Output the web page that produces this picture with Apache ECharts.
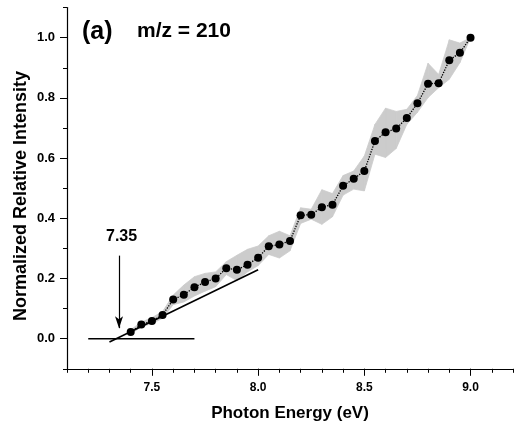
<!DOCTYPE html>
<html><head><meta charset="utf-8">
<script src="https://cdn.jsdelivr.net/npm/echarts@6/dist/echarts.min.js"></script>
<style>html,body{margin:0;padding:0;background:#fff}#c{width:515px;height:425px}</style>
</head><body><div id="c"></div>
<script>
var energy = [7.40,7.45,7.50,7.55,7.60,7.65,7.70,7.75,7.80,7.85,7.90,7.95,8.00,8.05,8.10,8.15,8.20,8.25,8.30,8.35,8.40,8.45,8.50,8.55,8.60,8.65,8.70,8.75,8.80,8.85,8.90,8.95,9.00];
var intensity = [0.022,0.047,0.059,0.079,0.130,0.146,0.171,0.188,0.200,0.234,0.229,0.246,0.269,0.307,0.313,0.325,0.410,0.412,0.437,0.445,0.508,0.531,0.557,0.657,0.686,0.698,0.733,0.782,0.847,0.849,0.925,0.950,1.000];
var bandUpper = [0.030,0.055,0.070,0.090,0.145,0.178,0.206,0.217,0.222,0.256,0.277,0.297,0.308,0.342,0.357,0.342,0.435,0.430,0.495,0.482,0.542,0.557,0.607,0.712,0.766,0.755,0.762,0.808,0.915,0.878,0.993,0.982,1.000];
var bandLower = [0.015,0.040,0.050,0.068,0.113,0.122,0.142,0.158,0.173,0.213,0.193,0.222,0.243,0.280,0.268,0.292,0.383,0.397,0.380,0.405,0.477,0.497,0.491,0.613,0.602,0.632,0.712,0.752,0.801,0.834,0.862,0.917,1.000];
var baseLine = [[7.2,0],[7.7,0]];
var slopeLine = [[7.30,-0.011],[8.0,0.229]];
var arrowFrom = [7.345,0.276], arrowTo = [7.345,0.035];
var xTicksMajor = [7.5,8.0,8.5,9.0];
var yTicksMajor = [0,0.2,0.4,0.6,0.8,1.0];

var FONT = 'Liberation Sans, Arial, sans-serif';
var chart = echarts.init(document.getElementById('c'));
var bandData = energy.map(function(x,i){return [x,bandLower[i],bandUpper[i]];});
var pts = energy.map(function(x,i){return [x,intensity[i]];});

function renderBand(params, api){
  var i = params.dataIndex;
  if (i >= energy.length-1) return null;
  var a = api.coord([energy[i], bandLower[i]]);
  var b = api.coord([energy[i+1], bandLower[i+1]]);
  var c = api.coord([energy[i+1], bandUpper[i+1]]);
  var d = api.coord([energy[i], bandUpper[i]]);
  return {type:'polygon', shape:{points:[a,b,c,d]}, style:{fill:'#cccccc', stroke:'#cccccc', lineWidth:0.8}};
}
function renderSegment(params, api){
  if (params.dataIndex !== 0) return null;
  var p = api.coord(baseLine[0]), q = api.coord(baseLine[1]);
  return {type:'line', shape:{x1:p[0], y1:p[1], x2:q[0], y2:q[1]}, style:{stroke:'#000', lineWidth:1.6}};
}

var axLine = {show:true, onZero:false, lineStyle:{color:'#000', width:1.2}};
chart.setOption({
  animation:false,
  grid:{left:67, right:2, top:7.6, bottom:56.2, containLabel:false},
  xAxis:[
    {type:'value', min:7.1, max:9.2, interval:0.1, axisLine:axLine,
     axisTick:{show:true, customValues:xTicksMajor, length:7, lineStyle:{color:'#000',width:1}},
     axisLabel:{customValues:xTicksMajor, formatter:function(v){return v.toFixed(1);}, color:'#000', fontFamily:FONT, fontWeight:'bold', fontSize:12, margin:13},
     splitLine:{show:false}},
    {type:'value', position:'bottom', min:7.1, max:9.2, interval:0.1, axisLine:{show:false, onZero:false},
     axisTick:{show:true, length:4, lineStyle:{color:'#000',width:1}}, axisLabel:{show:false}, splitLine:{show:false}}
  ],
  yAxis:[
    {type:'value', min:-0.1, max:1.1, interval:0.1, axisLine:axLine,
     axisTick:{show:true, customValues:yTicksMajor, length:7, lineStyle:{color:'#000',width:1}},
     axisLabel:{customValues:yTicksMajor, formatter:function(v){return v.toFixed(1);}, color:'#000', fontFamily:FONT, fontWeight:'bold', fontSize:13, margin:12},
     splitLine:{show:false}},
    {type:'value', position:'left', min:-0.1, max:1.1, interval:0.1, axisLine:{show:false, onZero:false},
     axisTick:{show:true, length:4, lineStyle:{color:'#000',width:1}}, axisLabel:{show:false}, splitLine:{show:false}}
  ],
  series:[
    {type:'custom', data:bandData, encode:{x:0, y:[1,2]}, renderItem:renderBand, silent:true, z:1},
    {type:'custom', data:baseLine, encode:{x:0, y:1}, renderItem:renderSegment, silent:true, z:4},
    {type:'line', data:slopeLine, symbol:'none', lineStyle:{color:'#000', width:1.6}, z:2,
     markLine:{silent:true, symbol:['none','arrow'], symbolSize:[6,12], label:{show:false},
       lineStyle:{color:'#000', width:1.2, type:'solid'},
       data:[[{coord:arrowFrom},{coord:arrowTo}]]}},
    {type:'line', data:pts, symbol:'circle', symbolSize:8, itemStyle:{color:'#000'}, z:3,
     lineStyle:{color:'#000', width:1.3, type:'dotted'}}
  ],
  graphic:[
    {type:'text', left:82, top:20, style:{text:'(a)', fill:'#000', font:'bold 25px '+FONT}},
    {type:'text', left:137, top:21, style:{text:'m/z = 210', fill:'#000', font:'bold 21px '+FONT}},
    {type:'text', left:106, top:229, style:{text:'7.35', fill:'#000', font:'bold 16px '+FONT}},
    {type:'text', x:290, y:413, style:{text:'Photon Energy (eV)', fill:'#000', font:'bold 17px '+FONT, align:'center', verticalAlign:'middle'}},
    {type:'text', x:21, y:196, rotation:Math.PI/2, style:{text:'Normalized Relative Intensity', fill:'#000', font:'bold 18px '+FONT, align:'center', verticalAlign:'middle'}}
  ]
});
</script></body></html>
